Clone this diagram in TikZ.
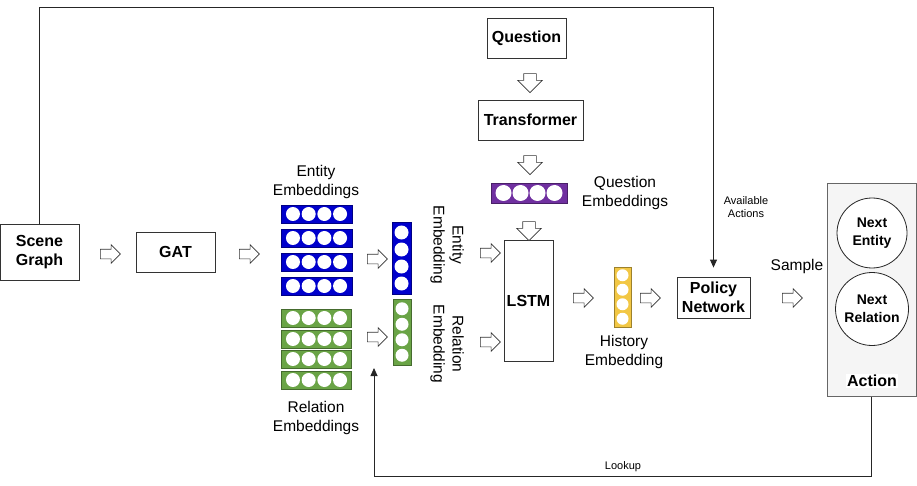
\documentclass[tikz,border=0pt]{standalone}
\usepackage{fontspec}
\setmainfont{Liberation Sans}
\usetikzlibrary{positioning,shapes.arrows,arrows.meta}

\definecolor{embblue}{RGB}{0,0,204}
\definecolor{embgreen}{RGB}{106,164,70}
\definecolor{embpurple}{RGB}{112,48,160}
\definecolor{embyellow}{RGB}{242,199,68}
\definecolor{actgray}{RGB}{245,245,245}

% horizontal embedding vector: name, position, colour, width, height, dot step
\newcommand{\hvec}[6]{%
    \node[embbar=#3, minimum width=#4, minimum height=#5] (#1) at (#2) {};
    \foreach \k in {-1.5,-0.5,0.5,1.5}
        \node[dot=#5-4] at ([xshift=\k*#6]#1.center) {};
}
% vertical embedding vector: name, position, colour, width, height, dot step
\newcommand{\vvec}[6]{%
    \node[embbar=#3, minimum width=#4, minimum height=#5] (#1) at (#2) {};
    \foreach \k in {-1.5,-0.5,0.5,1.5}
        \node[dot=#4-5] at ([yshift=\k*#6]#1.center) {};
}

\begin{document}
\begin{tikzpicture}
    [x=1pt, y=-1pt,
    font=\fontsize{15.5}{19}\selectfont,
    box/.style={rectangle, draw=black!80, line width=0.8pt, fill=white,
    align=center, font=\fontsize{16}{19.5}\selectfont\bfseries, inner sep=0pt},
    lbl/.style={align=center, inner sep=0pt},
    small/.style={align=center, inner sep=0pt, font=\fontsize{11}{13}\selectfont},
    embbar/.style={draw=#1!65!black, fill=#1, line width=0.6pt, inner sep=0pt},
    dot/.style={circle, fill=white, inner sep=0pt, minimum size=#1},
    rarrow/.style={single arrow, draw=black!80, fill=white, line width=0.6pt,
    minimum height=20, inner sep=4.5pt, single arrow head extend=4.5pt,
    single arrow head indent=0pt},
    darrow/.style={rarrow, minimum height=19, inner sep=6pt,
    single arrow head extend=6pt, shape border rotate=270},
    flow/.style={draw=black!85, line width=0.8pt,
    -{Triangle[length=8pt,width=7pt]}},
    state/.style={circle, draw=black!85, line width=0.8pt, fill=white,
    align=center, inner sep=0pt, font=\fontsize{14}{17.5}\selectfont\bfseries}]

    \useasboundingbox (0,0) rectangle (917,486);

    % main blocks
    \node[box, minimum width=79, minimum height=56] (scene) at (39.5,252) {Scene\\Graph};
    \node[box, minimum width=79, minimum height=40] (gat) at (175.5,252) {GAT};
    \node[box, minimum width=79, minimum height=40] (question) at (526.5,38) {Question};
    \node[box, minimum width=105, minimum height=40] (transformer) at (530.5,120) {Transformer};
    \node[box, minimum width=49, minimum height=121] (lstm) at (528.5,300.5) {LSTM};
    \node[box, minimum width=73, minimum height=41] (policy) at (713.5,297.5) {Policy\\Network};

    % action container
    \node[rectangle, draw=black!60, fill=actgray, line width=0.8pt,
        minimum width=89, minimum height=213] (action) at (871.5,290) {};
    \node[state, minimum size=70] (nextent) at (872,233) {Next\\Entity};
    \node[state, minimum size=73] (nextrel) at (872,309) {Next\\Relation};
    \node[fill=white, inner sep=1pt, font=\fontsize{16}{19}\selectfont\bfseries]
        (actionlbl) at (872,381) {Action};

    % embeddings
    \foreach \y [count=\i] in {214,238,262,286} {
        \hvec{ent\i}{316.5,\y}{embblue}{71}{18}{15.7}
    }
    \foreach \y [count=\i] in {318,339,359,380} {
        \hvec{rel\i}{316.5,\y}{embgreen}{70}{18}{15.7}
    }
    \vvec{entvec}{401.5,258}{embblue}{19}{72}{17}
    \vvec{relvec}{402,332}{embgreen}{18}{66}{15.5}
    \hvec{qvec}{529,193}{embpurple}{76}{20}{17}
    \vvec{histvec}{622.5,297}{embyellow}{17}{60}{14.5}

    % labels
    \node[lbl] (entlbl) at (316,182) {Entity\\Embeddings};
    \node[lbl] (rellbl) at (316,418) {Relation\\Embeddings};
    \node[lbl, rotate=-90] (entveclbl) at (447,245) {Entity\\Embedding};
    \node[lbl, rotate=-90] (relveclbl) at (447,344) {Relation\\Embedding};
    \node[lbl] (qlbl) at (625,193) {Question\\Embeddings};
    \node[lbl] (histlbl) at (624,352) {History\\Embedding};
    \node[lbl] (samplelbl) at (797,266) {Sample};
    \node[small] (availlbl) at (746,207) {Available\\Actions};
    \node[small] (lookuplbl) at (623,467) {Lookup};

    % block arrows
    \node[rarrow] (a1) at (108,254) {};
    \node[rarrow] (a2) at (247,254) {};
    \node[rarrow] (a3) at (375,259) {};
    \node[rarrow] (a4) at (375,337) {};
    \node[rarrow] (a5) at (488,253) {};
    \node[rarrow] (a6) at (488,342) {};
    \node[rarrow] (a7) at (581,298) {};
    \node[rarrow] (a8) at (648,298) {};
    \node[rarrow] (a9) at (790,298) {};
    \node[darrow] (d1) at (530,80) {};
    \node[darrow] (d2) at (530,162) {};
    \node[darrow] (d3) at (529,228) {};

    % feedback connectors
    \coordinate (topline) at (0,7);
    \coordinate (bottomline) at (0,476);
    \coordinate (lookupend) at (374,368);
    \draw[flow, shorten >=9pt] (scene.north) -- (scene.north |- topline) -| (policy.north);
    \draw[flow] (action.south) -- (action.south |- bottomline) -| (lookupend);
\end{tikzpicture}
\end{document}
